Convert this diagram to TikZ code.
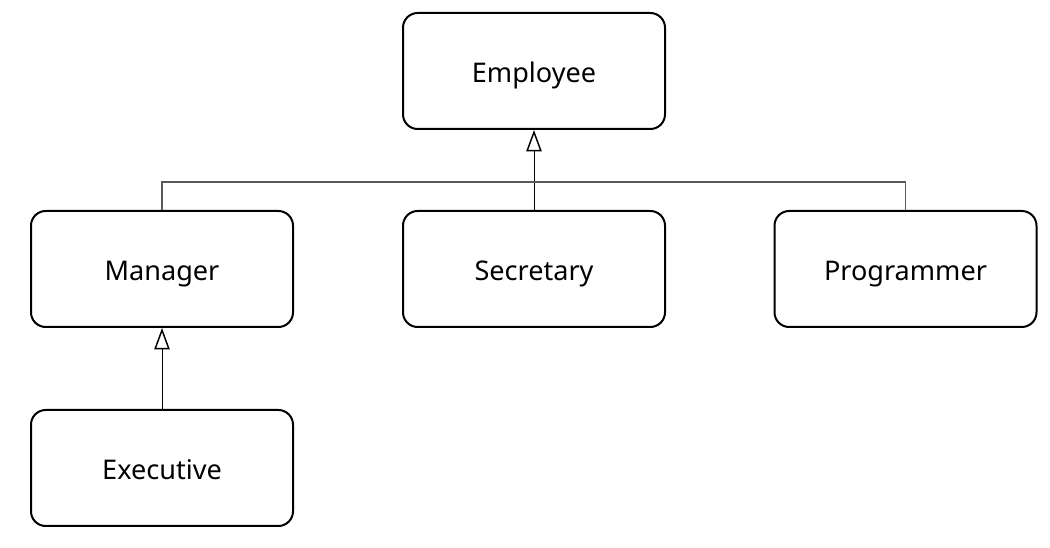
\documentclass[tikz,border=0pt]{standalone}
\usepackage{fontspec}
\setmainfont{Noto Sans}
\usetikzlibrary{arrows.meta}
\begin{document}
\begin{tikzpicture}[x=0.75pt,y=-0.75pt,
  cls/.style={draw=black,line width=1.5pt,rounded corners=11pt,minimum width=196.5pt,minimum height=87pt,inner sep=0pt,text height=17.5pt,text depth=0pt,font=\fontsize{20.3}{22}\selectfont},
  inh/.style={-{Triangle[open,width=11.5pt,length=16pt,line width=1.1pt]},line width=0.7pt},
  link/.style={line width=0.8pt,draw=black!65}]
\useasboundingbox (0,0) rectangle (1050,548);
\node[cls] (emp) at (534,71) {Employee};
\node[cls] (man) at (162,269) {Manager};
\node[cls] (sec) at (534,269) {Secretary};
\node[cls] (pro) at (905.5,269) {Programmer};
\node[cls] (exe) at (162,468) {Executive};
\coordinate (j) at (534,182);
\draw[inh] (sec.north) -- (emp.south);
\draw[link] (man.north) -- (man.north |- j) -- (pro.north |- j) -- (pro.north);
\draw[inh] (exe.north) -- (man.south);
\end{tikzpicture}
\end{document}
